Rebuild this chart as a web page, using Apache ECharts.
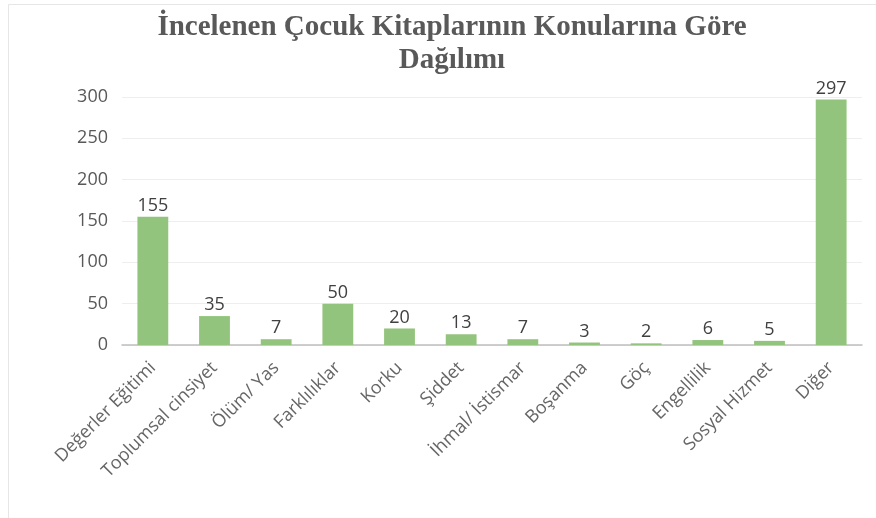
<!DOCTYPE html>
<html>
<head>
<meta charset="utf-8">
<script src="https://cdn.jsdelivr.net/npm/echarts@6/dist/echarts.min.js"></script>
<style>
  html, body { margin: 0; padding: 0; background: #fff; }
</style>
</head>
<body>
<div id="main" style="width: 876px; height: 518px;"></div>
<script>
// konular ve kitap sayıları
const categories = ['Değerler Eğitimi', 'Toplumsal cinsiyet', 'Ölüm/ Yas', 'Farklılıklar', 'Korku', 'Şiddet',
  'İhmal/ İstismar', 'Boşanma', 'Göç', 'Engellilik', 'Sosyal Hizmet', 'Diğer'];
const counts = [155, 35, 7, 50, 20, 13, 7, 3, 2, 6, 5, 297];
const yTicks = { min: 0, max: 300, interval: 50 };

const myChart = echarts.init(document.getElementById('main'));

const option = {
  animation: false,
  // dış çerçeve
  graphic: [{
    type: 'rect',
    shape: { x: 8.5, y: 4.5, width: 900, height: 600 },
    style: { fill: 'none', stroke: '#e6e6e6', lineWidth: 1 },
    silent: true
  }],
  title: {
    text: 'İncelenen Çocuk Kitaplarının Konularına Göre\nDağılımı',
    left: 447,
    textAlign: 'center',
    top: 6,
    textStyle: {
      fontFamily: 'Liberation Serif',
      fontWeight: 'bold',
      fontSize: 29,
      lineHeight: 33,
      color: '#595959'
    }
  },
  grid: { left: 122, right: 14, top: 97, bottom: 173, containLabel: false },
  xAxis: {
    type: 'category',
    data: categories,
    axisTick: { show: false },
    axisLine: { lineStyle: { color: '#bfbfbf', width: 1.5 } },
    axisLabel: {
      interval: 0,
      rotate: 45,
      margin: 20,
      fontFamily: 'Open Sans',
      fontSize: 18,
      color: '#666666'
    }
  },
  yAxis: {
    type: 'value',
    min: yTicks.min,
    max: yTicks.max,
    interval: yTicks.interval,
    axisLine: { show: false },
    axisTick: { show: false },
    splitLine: { lineStyle: { color: '#eeeeee' } },
    axisLabel: {
      margin: 14,
      fontFamily: 'Open Sans',
      fontSize: 18,
      color: '#595959'
    }
  },
  series: [{
    type: 'bar',
    data: counts,
    barWidth: '50%',
    itemStyle: { color: '#93c47d' },
    label: {
      show: true,
      position: 'top',
      distance: 2,
      fontFamily: 'Open Sans',
      fontSize: 18,
      color: '#404040'
    }
  }]
};

myChart.setOption(option);
</script>
</body>
</html>
